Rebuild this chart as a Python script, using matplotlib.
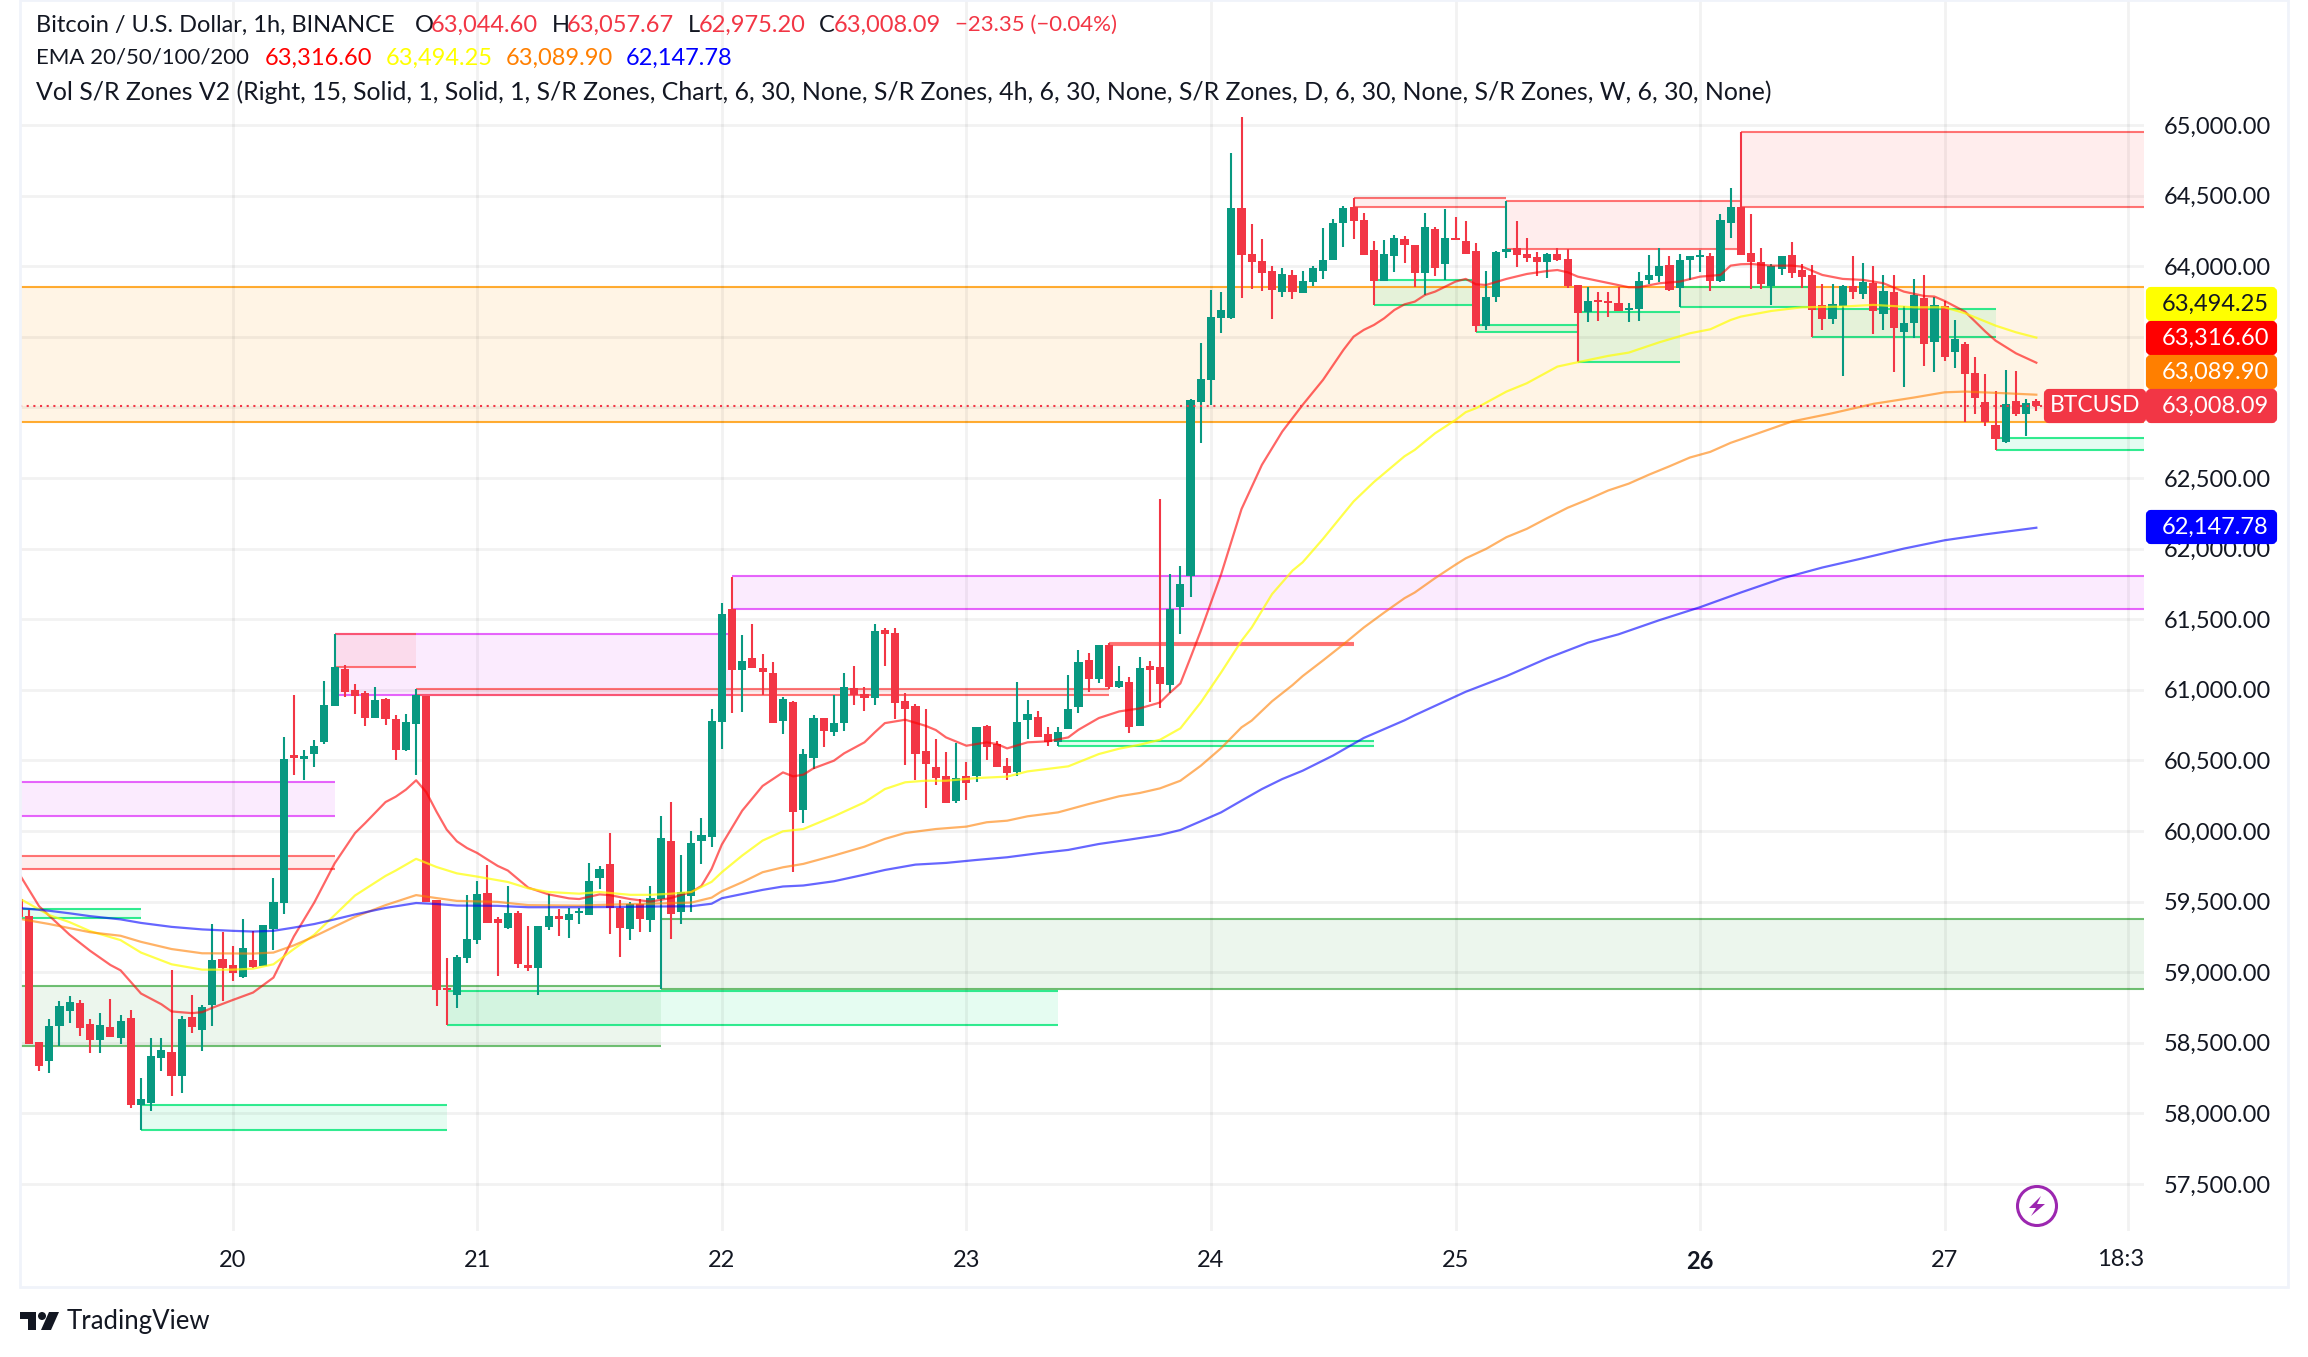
import matplotlib
matplotlib.use("Agg")
import matplotlib.pyplot as plt
from matplotlib.patches import Rectangle, FancyBboxPatch, Ellipse, Polygon, Circle
from matplotlib.transforms import Affine2D

W, H = 2308, 1357
plt.rcParams['font.family'] = ['Lato', 'DejaVu Sans']

# candles, one per hour, first one is 21 hours before day 20
first_hour = -21
opens = [
    59518, 59399, 58508, 58374, 58616, 58728, 58783, 58634, 58523, 58614,
    58533, 58677, 58058, 58076, 58389, 58437, 58268, 58685, 58594, 58770,
    59096, 59053, 58967, 59089, 59046, 59308, 59493, 60538, 60513, 60546,
    60629, 60886, 61146, 60998, 60975, 60801, 60937, 60793, 60573, 60758,
    60957, 59510, 58884, 58836, 59101, 59230, 59561, 59379, 59313, 59419,
    59053, 59031, 59321, 59399, 59371, 59422, 59407, 59667, 59768, 59455,
    59308, 59485, 59371, 59515, 59929, 59429, 59541, 59932, 59960, 60774,
    61571, 61142, 61226, 61156, 61120, 60781, 60915, 60151, 60519, 60802,
    60703, 60767, 61014, 60972, 60944, 61425, 61403, 60922, 60887, 60569,
    60455, 60392, 60215, 60392, 60392, 60745, 60618, 60462, 60420, 60788,
    60809, 60689, 60632, 60724, 60880, 61212, 61078, 61318, 61021, 61057,
    60745, 61170, 61163, 61035, 61587, 61808, 63041, 63195, 63634, 63634,
    64412, 64087, 64037, 63966, 63818, 63938, 63811, 63888, 63966, 64044,
    64306, 64419, 64327, 64115, 63896, 64073, 64193, 64150, 63952, 64264,
    64016, 64200, 64179, 64108, 63577, 63782, 64101, 64129, 64087, 64065,
    64030, 64087, 64051, 63867, 63676, 63761, 63754, 63740, 63690, 63697,
    63903, 63931, 64009, 63846, 64044, 64065, 64073, 63896, 64306, 64419,
    64094, 64030, 63860, 63980, 64080, 63973, 63938, 63726, 63626, 63719,
    63860, 63803, 63881, 63662, 63818, 63534, 63598, 63775, 63464, 63719,
    63393, 63449, 63244, 63039, 62876, 62756, 63046, 62954, 63044.60,
]
highs = [
    59541, 59442, 58508, 58672, 58798, 58834, 58803, 58672, 58710, 58813,
    58697, 58733, 58248, 58531, 58536, 59015, 58692, 58841, 58768, 59341,
    59288, 59187, 59379, 59291, 59336, 59667, 60664, 60960, 60571, 60641,
    61061, 61394, 61179, 61040, 60990, 61018, 60942, 60818, 60828, 61005,
    60957, 59510, 59101, 59124, 59546, 59647, 59758, 59389, 59611, 59435,
    59328, 59328, 59551, 59450, 59455, 59455, 59773, 59753, 59985, 59510,
    59500, 59520, 59611, 60106, 60205, 59831, 60000, 60092, 60866, 61616,
    61799, 61389, 61467, 61255, 61198, 60951, 60922, 60583, 60823, 60802,
    60965, 61120, 61170, 61021, 61467, 61439, 61439, 60979, 60901, 60866,
    60653, 60561, 60625, 60491, 60738, 60753, 60639, 60519, 61057, 60929,
    60852, 60738, 60738, 61106, 61283, 61262, 61318, 61333, 61170, 61092,
    61234, 61205, 62349, 61821, 61877, 63060, 63454, 63832, 63818, 64802,
    65057, 64299, 64193, 64002, 63988, 63973, 63966, 64002, 64271, 64334,
    64427, 64483, 64377, 64179, 64186, 64221, 64214, 64150, 64377, 64278,
    64405, 64349, 64320, 64165, 63966, 64108, 64462, 64320, 64200, 64101,
    64094, 64129, 64122, 63867, 63853, 63818, 63818, 63853, 63740, 63959,
    64080, 64129, 64073, 64087, 64073, 64115, 64094, 64370, 64554, 64950,
    64370, 64129, 64016, 64073, 64172, 64016, 64009, 63874, 63874, 63867,
    64073, 64023, 64002, 63938, 63938, 63719, 63910, 63938, 63782, 63754,
    63619, 63464, 63357, 63237, 63117, 63265, 63258, 63060, 63057.67,
]
lows = [
    59389, 58488, 58298, 58288, 58475, 58642, 58551, 58430, 58425, 58543,
    58495, 58038, 57879, 58015, 58298, 58122, 58147, 58566, 58445, 58621,
    58798, 58935, 58960, 59031, 59046, 59159, 59414, 60397, 60361, 60452,
    60616, 60886, 60950, 60828, 60742, 60801, 60750, 60503, 60568, 60397,
    59498, 58763, 58629, 58745, 59066, 59202, 59349, 58975, 59308, 59031,
    59005, 58836, 59301, 59258, 59243, 59344, 59404, 59591, 59273, 59109,
    59225, 59283, 59283, 58882, 59233, 59344, 59429, 59765, 59890, 60583,
    60837, 60844, 61156, 60965, 60767, 60689, 59713, 60059, 60441, 60597,
    60675, 60710, 60894, 60852, 60894, 61170, 60795, 60470, 60363, 60165,
    60328, 60201, 60201, 60222, 60349, 60505, 60455, 60363, 60392, 60653,
    60668, 60604, 60604, 60724, 60837, 60986, 61050, 61007, 61014, 60696,
    60745, 60915, 60871, 60979, 61396, 61660, 62746, 63018, 63530, 63626,
    63775, 63839, 63825, 63626, 63782, 63768, 63811, 63860, 63910, 64044,
    64136, 64193, 64080, 63726, 63896, 63959, 64023, 63853, 63796, 63931,
    63903, 64186, 64087, 63534, 63549, 63747, 64058, 63995, 64030, 63931,
    63917, 64037, 63846, 63322, 63605, 63612, 63641, 63683, 63605, 63612,
    63874, 63888, 63825, 63711, 63903, 63959, 63825, 63888, 64200, 64080,
    63839, 63839, 63726, 63938, 63917, 63846, 63499, 63549, 63591, 63223,
    63768, 63768, 63520, 63549, 63251, 63145, 63492, 63294, 63251, 63329,
    63280, 62897, 62954, 62869, 62699, 62749, 62940, 62798, 62975.20,
]
closes = [
    59392, 58488, 58339, 58621, 58763, 58791, 58606, 58523, 58627, 58543,
    58657, 58063, 58099, 58409, 58452, 58263, 58672, 58614, 58755, 59089,
    59031, 58993, 59172, 59038, 59336, 59498, 60510, 60515, 60530, 60601,
    60891, 61159, 60982, 60957, 60801, 60927, 60793, 60573, 60770, 60960,
    59498, 58871, 58871, 59109, 59238, 59556, 59349, 59346, 59419, 59061,
    59031, 59328, 59399, 59374, 59414, 59435, 59647, 59733, 59452, 59311,
    59485, 59374, 59525, 59950, 59414, 59568, 59914, 59974, 60781, 61538,
    61142, 61205, 61156, 61127, 60767, 60936, 60137, 60547, 60802, 60710,
    60767, 61021, 60965, 60944, 61417, 61396, 60908, 60866, 60547, 60477,
    60378, 60201, 60378, 60342, 60738, 60597, 60455, 60413, 60774, 60830,
    60668, 60632, 60703, 60866, 61198, 61078, 61318, 61021, 61064, 60738,
    61156, 61142, 61043, 61572, 61750, 63052, 63202, 63641, 63690, 64412,
    64080, 64030, 63952, 63832, 63945, 63818, 63896, 63988, 64044, 64306,
    64412, 64320, 64080, 63896, 64087, 64200, 64150, 63952, 64278, 63988,
    64200, 64186, 64087, 63577, 63782, 64101, 64122, 64080, 64058, 64030,
    64087, 64044, 63860, 63669, 63754, 63747, 63740, 63683, 63704, 63896,
    63938, 64002, 63832, 64044, 64073, 64080, 63896, 64327, 64419, 64080,
    64030, 63874, 64002, 64073, 63952, 63924, 63690, 63626, 63733, 63860,
    63818, 63888, 63683, 63825, 63563, 63598, 63796, 63449, 63726, 63357,
    63485, 63237, 63067, 62897, 62777, 63025, 62954, 63032, 63008.09,
]

ema20_hours = [-21, -19, -16, -14, -12, -11, -9, -7, -6, -4, -3, -2, 0, 2, 4, 6, 8, 10, 12, 13, 15, 16, 17, 18, 19, 20, 21, 22, 23, 24, 25, 26, 27, 29, 31, 33, 34, 36, 37, 39, 41, 43, 45, 46, 47, 48, 50, 52, 54, 55, 56, 57, 59, 60, 62, 63, 64, 66, 68, 69, 70, 72, 74, 75, 76, 78, 80, 82, 83, 85, 87, 89, 91, 92, 93, 94, 95, 97, 99, 101, 103, 104, 105, 107, 109, 110, 111, 112, 113, 114, 115, 116, 117, 118, 120, 121, 122, 123, 125, 127, 129, 130, 131, 132, 137, 138, 140, 142, 144, 146, 147, 148, 149, 151, 153, 154, 156, 158, 160, 162, 164, 166, 167, 168, 170, 172, 173, 175, 177]
ema20 = [59702, 59467, 59265, 59152, 59051, 59013, 58849, 58773, 58722, 58710, 58717, 58748, 58803, 58856, 58962, 59253, 59493, 59770, 59985, 60056, 60205, 60243, 60293, 60359, 60275, 60137, 60010, 59927, 59879, 59844, 59798, 59753, 59720, 59599, 59551, 59523, 59518, 59551, 59546, 59518, 59500, 59525, 59568, 59611, 59732, 59904, 60144, 60319, 60415, 60387, 60399, 60444, 60498, 60550, 60628, 60698, 60764, 60788, 60745, 60715, 60663, 60604, 60628, 60616, 60585, 60628, 60635, 60663, 60717, 60800, 60847, 60868, 60910, 60981, 61045, 61229, 61417, 61818, 62280, 62593, 62829, 62923, 63018, 63195, 63407, 63501, 63549, 63584, 63631, 63690, 63730, 63749, 63796, 63820, 63891, 63910, 63872, 63867, 63910, 63945, 63966, 63973, 63957, 63926, 63851, 63851, 63879, 63891, 63926, 63938, 64004, 64014, 64016, 64004, 64004, 63997, 63938, 63910, 63903, 63879, 63820, 63789, 63785, 63754, 63678, 63537, 63473, 63383, 63316.60]

ema50_hours = [-21, -18, -16, -14, -11, -9, -6, -3, 0, 2, 4, 6, 8, 10, 12, 15, 16, 18, 20, 22, 24, 27, 29, 31, 34, 36, 39, 41, 43, 45, 47, 48, 50, 52, 54, 56, 59, 62, 64, 66, 68, 70, 73, 76, 78, 82, 85, 87, 89, 91, 93, 95, 97, 99, 100, 102, 104, 105, 107, 109, 110, 112, 115, 116, 118, 120, 121, 122, 125, 127, 130, 132, 135, 137, 140, 143, 145, 147, 148, 151, 154, 158, 161, 165, 168, 170, 173, 175, 177]
ema50 = [59525, 59404, 59354, 59291, 59227, 59139, 59056, 59018, 59018, 59025, 59056, 59164, 59265, 59404, 59543, 59682, 59720, 59803, 59745, 59700, 59677, 59639, 59594, 59568, 59556, 59568, 59548, 59548, 59556, 59568, 59640, 59708, 59826, 59932, 59998, 60014, 60104, 60203, 60297, 60345, 60356, 60356, 60375, 60385, 60422, 60458, 60545, 60583, 60611, 60646, 60727, 60910, 61123, 61347, 61441, 61678, 61844, 61903, 62069, 62246, 62334, 62472, 62654, 62699, 62817, 62911, 62966, 62994, 63112, 63171, 63289, 63320, 63365, 63388, 63461, 63525, 63553, 63619, 63643, 63683, 63709, 63714, 63726, 63709, 63709, 63667, 63579, 63532, 63494.25]

ema100_hours = [-21, -18, -14, -11, -9, -6, -3, 2, 4, 6, 8, 10, 12, 15, 18, 20, 22, 26, 29, 34, 38, 41, 45, 47, 48, 50, 52, 54, 56, 59, 62, 64, 66, 69, 72, 74, 76, 78, 81, 84, 87, 89, 91, 93, 95, 97, 99, 100, 102, 104, 105, 107, 109, 111, 113, 115, 116, 118, 120, 121, 123, 125, 127, 129, 131, 133, 135, 137, 139, 141, 143, 145, 147, 149, 153, 157, 161, 165, 168, 170, 174, 177]
ema100 = [59379, 59341, 59283, 59258, 59215, 59164, 59134, 59132, 59139, 59190, 59253, 59323, 59392, 59475, 59546, 59525, 59505, 59498, 59475, 59472, 59480, 59485, 59493, 59528, 59574, 59637, 59708, 59743, 59767, 59826, 59889, 59944, 59986, 60014, 60031, 60062, 60073, 60104, 60132, 60191, 60246, 60269, 60302, 60356, 60462, 60587, 60734, 60782, 60919, 61033, 61097, 61208, 61322, 61441, 61547, 61649, 61689, 61791, 61886, 61931, 61998, 62081, 62140, 62216, 62289, 62348, 62412, 62460, 62524, 62583, 62645, 62685, 62749, 62799, 62900, 62959, 63025, 63070, 63107, 63112, 63100, 63089.90]

ema200_hours = [-21, -18, -16, -14, -11, -9, -6, -3, 0, 2, 4, 6, 8, 10, 12, 15, 18, 20, 22, 26, 29, 34, 38, 41, 45, 47, 48, 52, 54, 56, 59, 62, 64, 67, 70, 73, 76, 79, 82, 85, 88, 91, 93, 95, 97, 99, 101, 103, 105, 108, 111, 115, 116, 121, 125, 129, 133, 136, 140, 144, 148, 152, 156, 160, 164, 168, 172, 177]
ema200 = [59455, 59435, 59417, 59397, 59374, 59349, 59321, 59303, 59293, 59288, 59293, 59316, 59341, 59374, 59409, 59455, 59490, 59483, 59472, 59470, 59460, 59460, 59462, 59465, 59467, 59485, 59524, 59583, 59607, 59614, 59644, 59691, 59724, 59762, 59774, 59795, 59814, 59842, 59866, 59908, 59939, 59972, 60007, 60069, 60132, 60215, 60297, 60368, 60427, 60535, 60659, 60784, 60820, 60986, 61097, 61223, 61334, 61393, 61493, 61585, 61689, 61788, 61866, 61932, 62000, 62059, 62101, 62147.78]

# support/resistance zones
zone_start = [-21, 49, 10, -21, 10, 18, 86, -21, -21, -9, -21, 21, 42, 81, 110, 125, 148, 112, 122, 132, 142, 155, 173]
zone_end = [190, 190, 49, 10, 18, 86, 110, 10, -9, 21, 42, 81, 190, 112, 125, 148, 190, 122, 132, 142, 155, 173, 190]
zone_top = [63855, 61806, 61394, 60346, 61394, 61005, 61332, 59823, 59450, 58063, 58904, 58869, 59379, 60636, 64483, 64464, 64950, 63903, 63584, 63676, 63853, 63697, 62784]
zone_bottom = [62899, 61572, 60962, 60106, 61159, 60962, 61320, 59733, 59387, 57879, 58480, 58629, 58879, 60604, 64419, 64122, 64419, 63726, 63534, 63322, 63711, 63499, 62699]
zone_kind = ['orange', 'purple', 'purple', 'purple', 'red', 'red', 'red', 'red', 'green', 'green', 'dark', 'green', 'dark', 'green', 'red', 'red', 'red', 'green', 'green', 'green', 'green', 'green', 'green']
zone_color = {'orange': '#ff9800', 'purple': '#e040fb', 'red': '#ff5252', 'green': '#00e676', 'dark': '#4caf50'}

price_ticks = list(range(57500, 65500, 500))
hidden_price_labels = [63000, 63500]  # covered by the value badges
day_hours = [0, 24, 48, 72, 96, 120, 144, 168]
day_labels = ['20', '21', '22', '23', '24', '25', '26', '27']
last_hour_grid = 186

# value badges on the price scale: label, background, text colour
badge_text = ['63,494.25', '63,316.60', '63,089.90', '63,008.09', '62,147.78']
badge_bg = ['#ffff00', '#ff0000', '#ff7f00', '#f23645', '#0000ff']
badge_fg = ['#131722', 'white', 'white', 'white', 'white']

fig = plt.figure(figsize=(W / 100, H / 100), dpi=100, facecolor='white')
# pixel coordinates, origin top left
px = Affine2D().scale(1 / W, -1 / H).translate(0, 1) + fig.transFigure

ax_l, ax_r, ax_t, ax_b = 20, 2144, 0, 1231
ax = fig.add_axes([ax_l / W, 1 - ax_b / H, (ax_r - ax_l) / W, (ax_b - ax_t) / H])
ax.set_xlim((ax_l - 232.7) / 10.19, (ax_r - 232.7) / 10.19)
ax.set_ylim(65000 - (ax_b - 125) / 0.1412, 65000 + 125 / 0.1412)
for s in ax.spines.values():
    s.set_visible(False)
ax.set_yticks(price_ticks)
ax.set_yticklabels(['' if p in hidden_price_labels else f'{p:,.2f}' for p in price_ticks],
                   color='#131722', fontsize=17)
ax.tick_params(axis='y', left=False, right=False, labelleft=False, labelright=True, pad=11)
ax.set_xticks(day_hours + [last_hour_grid])
ax.set_xticklabels(day_labels + [''], color='#131722', fontsize=17)
ax.tick_params(axis='x', length=0, pad=14)
ax.get_xticklabels()[6].set_fontweight('bold')
ax.grid(True, color='black', alpha=0.05, lw=2, zorder=2)
ax.set_axisbelow(False)
ax.text(1, -29 / (ax_b - ax_t), '18:3', transform=ax.transAxes, ha='right', va='center',
        color='#131722', fontsize=17)

for x0, x1, top, bottom, kind in zip(zone_start, zone_end, zone_top, zone_bottom, zone_kind):
    c = zone_color[kind]
    ax.add_patch(Rectangle((x0, bottom), x1 - x0, top - bottom, fc=c, ec='none', alpha=0.1, zorder=1))
    ax.hlines([top, bottom], x0, x1, color=c, lw=1.5, alpha=0.8, zorder=1.5)

hours = [first_hour + i for i in range(len(opens))]
for h, o, hi, lo, c in zip(hours, opens, highs, lows, closes):
    col = '#089981' if c >= o else '#f23645'
    ax.vlines(h, lo, hi, color=col, lw=1.5, zorder=3)
    ax.bar(h, max(abs(c - o), 14), bottom=min(o, c), width=0.8, color=col, zorder=3)

ax.plot(ema20_hours, ema20, color='#ff0000', lw=1.6, alpha=0.6, zorder=4)
ax.plot(ema50_hours, ema50, color='#ffff00', lw=1.6, alpha=0.7, zorder=4)
ax.plot(ema100_hours, ema100, color='#ff7f00', lw=1.6, alpha=0.6, zorder=4)
ax.plot(ema200_hours, ema200, color='#0000ff', lw=1.6, alpha=0.6, zorder=4)

ax.axhline(closes[-1], color='#f23645', lw=1.5, ls=(0, (1, 2.2)), zorder=5)

# frame around chart and scale
fig.add_artist(Rectangle((20, 0), 2268, 1287, transform=px, fc='none', ec='#f0f3fa', lw=2))

# header lines: x, text, colour, size
line1 = [(36, 'Bitcoin / U.S. Dollar, 1h, BINANCE', '#131722', 17), (415, 'O', '#131722', 17), (431, '63,044.60', '#f23645', 17),
         (552, 'H', '#131722', 17), (567, '63,057.67', '#f23645', 17), (688, 'L', '#131722', 17), (699, '62,975.20', '#f23645', 17),
         (819, 'C', '#131722', 17), (834, '63,008.09', '#f23645', 17), (955, '−23.35 (−0.04%)', '#f23645', 16)]
for x, s, c, fs in line1:
    fig.text(x, 25, s, transform=px, color=c, fontsize=fs, va='center')
line2 = [(36, 'EMA 20/50/100/200', '#131722', 16), (265, '63,316.60', '#ff0000', 17), (386, '63,494.25', '#ffff00', 17),
         (506, '63,089.90', '#ff7f00', 17), (626, '62,147.78', '#0000ff', 17)]
for x, s, c, fs in line2:
    fig.text(x, 58, s, transform=px, color=c, fontsize=fs, va='center')
fig.text(36, 92, 'Vol S/R Zones V2 (Right, 15, Solid, 1, Solid, 1, S/R Zones, Chart, 6, 30, None, S/R Zones, 4h, 6, 30, None, '
         'S/R Zones, D, 6, 30, None, S/R Zones, W, 6, 30, None)', transform=px, color='#131722', fontsize=17.9, va='center')

# badges
badge_y = [304, 338, 372, 406, 527]
for y, s, bg, fg in zip(badge_y, badge_text, badge_bg, badge_fg):
    fig.add_artist(FancyBboxPatch((2148, y - 15), 127, 30, boxstyle='round,pad=0,rounding_size=3', transform=px,
                                  fc=bg, ec=bg, lw=3, zorder=6))
    fig.text(2162, y, s, transform=px, color=fg, fontsize=17, va='center', zorder=7)
fig.add_artist(FancyBboxPatch((2046, 391), 98, 30, boxstyle='round,pad=0,rounding_size=3', transform=px,
                              fc='#f23645', ec='#f23645', lw=3, zorder=6))
fig.text(2095, 406, 'BTCUSD', transform=px, color='white', fontsize=16.5, va='center', ha='center', zorder=7)

# lightning icon
fig.add_artist(Ellipse((2037, 1206), 39, 39, transform=px, fc='white', ec='#9c27b0', lw=2.2, zorder=6))
fig.add_artist(Polygon([(2041, 1196), (2029, 1208), (2036, 1208), (2031, 1216), (2045, 1204), (2037, 1204)],
                       closed=True, transform=px, fc='#9c27b0', ec='none', zorder=7))

# TradingView mark
fig.add_artist(Polygon([(20, 1312), (36, 1312), (36, 1330), (28, 1330), (28, 1319), (20, 1319)], closed=True,
                       transform=px, fc='#131722', ec='none'))
fig.add_artist(Circle((42, 1316), 4, transform=px, fc='#131722', ec='none'))
fig.add_artist(Polygon([(49, 1312), (59, 1312), (51, 1330), (41, 1330)], closed=True, transform=px,
                       fc='#131722', ec='none'))
fig.text(67, 1322, 'TradingView', transform=px, color='#131722', fontsize=18.5, va='center')

fig.savefig('out.png', dpi=100)
